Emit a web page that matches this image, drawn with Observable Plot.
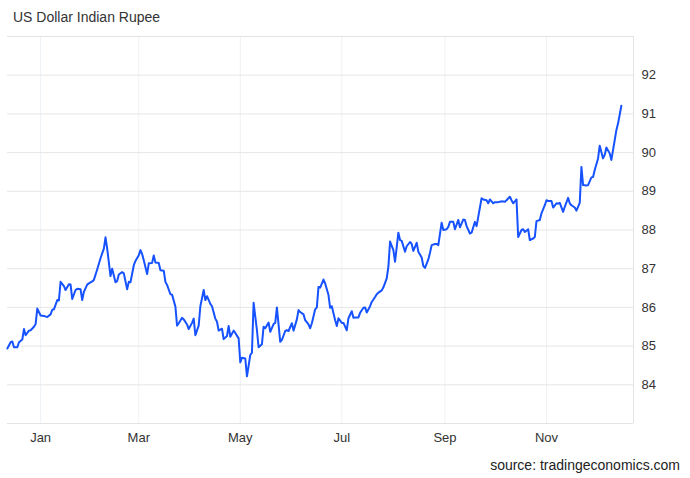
<!DOCTYPE html>
<html>
<head>
<meta charset="utf-8">
<script src="https://cdn.jsdelivr.net/npm/d3@7"></script>
<script src="https://cdn.jsdelivr.net/npm/@observablehq/plot@0.6"></script>
<style>
  html, body { margin: 0; padding: 0; background: #fff; }
  #wrap { position: relative; width: 690px; height: 478px; font-family: "Liberation Sans", Arial, sans-serif; }
  #title { position: absolute; left: 13px; top: 9px; font-size: 14px; color: #333; white-space: nowrap; }
  #caption { position: absolute; right: 10px; top: 457px; font-size: 14px; color: #222; white-space: nowrap; }
  #chart svg { display: block; }
</style>
</head>
<body>
<div id="wrap">
  <div id="chart"></div>
  <div id="title">US Dollar Indian Rupee</div>
  <div id="caption">source: tradingeconomics.com</div>
</div>
<script>
// Day offsets from 2025-01-01
const days = [
  -20,-18,-17,-16,-14,-13,-11,-10,-9,-7,-6,-4,-3,-2,0,2,4,6,7,8,10,11,12,14,15,17,18,19,21,22,24,25,26,28,29,31,32,34,36,38,39,40,42,
  43,45,46,47,49,50,52,53,54,56,57,59,60,61,62,64,65,67,68,69,71,72,74,75,76,78,79,81,82,83,85,86,88,89,91,92,93,95,96,98,99,100,102,103,105,
  106,107,109,110,112,113,114,116,117,119,120,121,123,124,126,127,128,130,131,133,134,135,137,138,140,141,142,144,145,147,148,149,151,152,154,155,156,158,159,161,162,163,165,166,167,
  168,170,171,173,174,175,177,178,179,181,182,184,185,187,188,189,191,192,194,195,196,198,199,201,202,203,205,206,208,209,210,212,213,215,216,217,219,220,222,223,224,226,227,229,230,231,
  233,234,235,237,238,239,241,242,244,245,246,248,249,251,252,254,255,256,258,259,261,262,263,265,266,268,269,270,272,273,275,276,277,279,280,282,283,284,286,287,289,290,291,293,
  294,296,297,298,300,301,303,304,305,307,308,310,311,312,314,315,317,318,319,321,322,324,325,326,328,329,331,332,333,335,336,338,339,340,342,343,345,346,347,349
];
// USD/INR rate
const rates = [
  84.94,85.10,85.12,84.97,84.97,85.10,85.17,85.44,85.28,85.40,85.41,85.50,85.57,85.97,85.79,85.78,85.75,85.82,85.94,85.95,86.19,86.18,86.66,86.55,86.45,86.60,86.59,86.22,86.45,86.48,86.47,86.19,86.40,86.59,86.62,86.67,86.71,86.98,87.27,87.52,87.81,87.52,86.81,
  87.00,86.65,86.68,86.85,86.91,86.88,86.47,86.66,86.65,87.09,87.20,87.35,87.48,87.38,87.22,86.86,87.14,87.15,87.34,87.16,87.15,86.96,86.95,86.66,86.58,86.34,86.33,86.02,85.53,85.59,85.73,85.69,85.56,85.44,85.60,85.71,85.28,85.53,86.03,86.45,86.19,86.29,86.09,86.03,85.71,
  85.63,85.40,85.45,85.18,85.26,85.52,85.24,85.40,85.34,85.20,84.58,84.70,84.68,84.22,84.77,84.83,86.12,85.41,84.97,85.05,85.50,85.46,85.61,85.37,85.57,85.60,86.00,85.11,85.16,85.39,85.41,85.39,85.59,85.40,85.69,85.93,85.88,85.82,85.67,85.56,85.46,85.59,85.95,86.00,86.53,
  86.51,86.72,86.62,86.32,85.99,86.03,85.67,85.52,85.72,85.60,85.60,85.41,85.72,85.90,85.73,85.74,85.74,85.86,85.99,86.00,85.87,86.03,86.14,86.27,86.34,86.38,86.44,86.52,86.75,87.05,87.70,87.48,87.18,87.93,87.74,87.72,87.44,87.58,87.69,87.64,87.46,87.67,87.44,87.29,87.07,87.02,
  87.24,87.41,87.61,87.64,87.64,87.61,88.19,88.00,88.02,88.08,88.21,88.21,88.02,88.26,88.07,88.27,88.26,88.10,87.91,87.93,88.21,88.10,88.34,88.82,88.79,88.77,88.69,88.79,88.69,88.72,88.72,88.73,88.74,88.73,88.77,88.86,88.77,88.69,88.79,87.82,88.00,88.02,87.95,88.02,
  87.74,87.78,87.82,88.23,88.26,88.43,88.64,88.77,88.75,88.75,88.58,88.69,88.68,88.70,88.47,88.60,88.83,88.69,88.64,88.58,88.50,88.70,89.63,89.16,89.15,89.16,89.36,89.37,89.55,89.85,90.18,89.85,89.94,90.13,89.98,89.81,90.32,90.58,90.75,91.21
];
const xDomainDays = [-19.9, 356.3];
const yDomain = [83, 93];
const yTicks = [84, 85, 86, 87, 88, 89, 90, 91, 92];
const xTickDates = ["2025-01-01", "2025-03-01", "2025-05-01", "2025-07-01", "2025-09-01", "2025-11-01"];
const xTickLabels = ["Jan", "Mar", "May", "Jul", "Sep", "Nov"];

const base = Date.UTC(2025, 0, 1);
const toDate = d => new Date(base + d * 864e5);
const data = days.map((d, i) => ({date: toDate(d), rate: rates[i]}));
const xTicks = xTickDates.map(s => new Date(s + "T00:00:00Z"));
const xDomain = xDomainDays.map(toDate);

const chart = Plot.plot({
  width: 690,
  height: 478,
  marginTop: 36,
  marginBottom: 55,
  marginLeft: 7,
  marginRight: 57,
  style: {fontFamily: '"Liberation Sans", Arial, sans-serif', fontSize: "13px", color: "#333", background: "transparent"},
  x: {type: "utc", domain: xDomain, ticks: xTicks, tickSize: 0, tickPadding: 9,
      tickFormat: d => xTickLabels[xTicks.findIndex(t => +t === +d)], label: null},
  y: {domain: yDomain, axis: "right", ticks: yTicks, tickSize: 0, tickPadding: 8, label: null},
  marks: [
    Plot.ruleX(xTicks, {stroke: "#eef1f5", strokeWidth: 1}),
    Plot.ruleY(yTicks, {stroke: "#e6e6e6", strokeWidth: 1}),
    Plot.ruleY(yDomain, {stroke: "#e3e3e3", strokeWidth: 1}),
    Plot.ruleX([xDomain[1]], {stroke: "#e3e3e3", strokeWidth: 1}),
    Plot.line(data, {x: "date", y: "rate", stroke: "#1652ff", strokeWidth: 2, curve: "linear"})
  ]
});
document.getElementById("chart").appendChild(chart);
</script>
</body>
</html>
